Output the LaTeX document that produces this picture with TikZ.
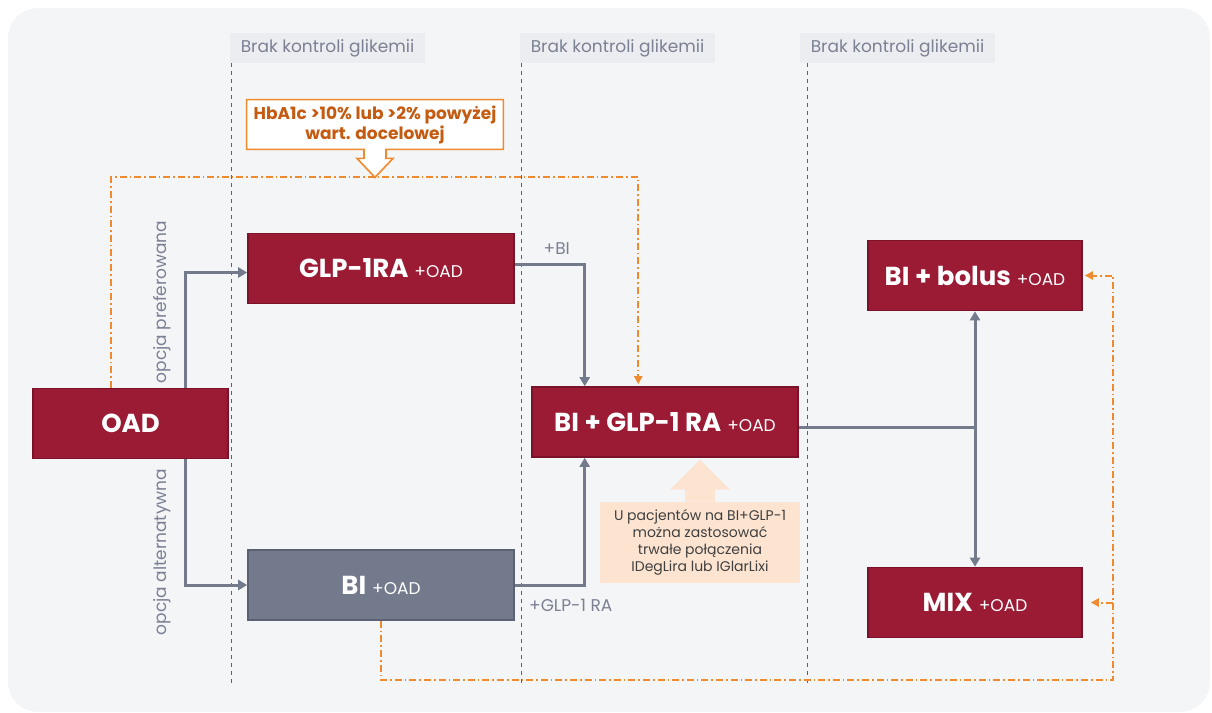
\documentclass[tikz,border=0pt]{standalone}
\usepackage{fontspec}
\setmainfont{Poppins}
\usepackage{xcolor}
\usepackage{tikz}
\usetikzlibrary{arrows.meta,positioning,calc,backgrounds}
\definecolor{bgpanel}{HTML}{F4F5F7}
\definecolor{hdrgray}{HTML}{ECEDF0}
\definecolor{txtgray}{HTML}{7B8093}
\definecolor{crimson}{HTML}{9B1B35}
\definecolor{crimsondark}{HTML}{7A1229}
\definecolor{slate}{HTML}{737A8C}
\definecolor{slatedark}{HTML}{5B6173}
\definecolor{orangeln}{HTML}{F08A2E}
\definecolor{orangetxt}{HTML}{C55A11}
\definecolor{peach}{HTML}{FCE4D1}
\definecolor{notetxt}{HTML}{3F3F3F}
\newcommand{\plusoad}{\hspace{3pt}{\mdseries\fontsize{8.5}{10}\selectfont +OAD}}

\begin{document}
\begin{tikzpicture}[x=0.5pt,y=-0.5pt,
   hdr/.style={fill=hdrgray,text=txtgray,minimum width=97.5pt,minimum height=15pt,inner sep=0pt,
               font=\fontsize{8.5}{10}\selectfont},
   drug/.style={draw=crimsondark,fill=crimson,line width=0.8pt,text=white,minimum width=133pt,
                minimum height=35pt,inner sep=0pt,font=\fontsize{13}{15}\selectfont\bfseries},
   sep/.style={draw=slatedark,line width=0.7pt,dash pattern=on 2pt off 2pt},
   flowline/.style={draw=slate,line width=1.5pt},
   flowarrow/.style={flowline,-{Triangle[length=4.5pt,width=5pt]}},
   alt/.style={draw=orangeln,line width=1pt,dash pattern=on 3.5pt off 1.5pt on 0.8pt off 1.5pt,
               -{Triangle[length=4pt,width=4pt]}},
   side/.style={text=txtgray,font=\fontsize{8.5}{10}\selectfont}]
  \useasboundingbox (0,0) rectangle (1212,713);
  \node[hdr] (h1) at (327.5,48) {Brak kontroli glikemii};
  \node[hdr] (h2) at (617.5,48) {Brak kontroli glikemii};
  \node[hdr] (h3) at (897.5,48) {Brak kontroli glikemii};
  \draw[sep] ([xshift=1pt]h1.south west) -- ([xshift=1pt]h1.south west |- 0,683);
  \draw[sep] ([xshift=1pt]h2.south west) -- ([xshift=1pt]h2.south west |- 0,683);
  \draw[sep] ([xshift=4pt]h3.south west) -- ([xshift=4pt]h3.south west |- 0,683);

  \node[text=orangetxt,align=center,minimum width=128pt,minimum height=24.5pt,inner sep=0pt,
        font=\fontsize{8.5}{10}\selectfont\bfseries] (hba) at (375,124.5)
        {HbA1c >10\% lub >2\% powyżej\\wart. docelowej};
  \coordinate (hbatip) at ($(hba.south)+(0,28)$);
  \begin{scope}[on background layer]
    \fill[bgpanel,rounded corners=15pt] (8,8) rectangle (1210,712);
    \draw[orangeln,fill=white,line width=0.8pt] (hba.north west) -- (hba.north east) -- (hba.south east)
      -- ($(hba.south)+(11,0)$) -- ++(0,9) -- ++(7,0) -- (hbatip) -- ($(hba.south)+(-18,9)$)
      -- ++(7,0) -- ++(0,-9) -- (hba.south west) -- cycle;
  \end{scope}

  \node[drug] (oad) at (130.5,423.5) [minimum width=97.5pt] {OAD};
  \node[drug] (glp) at (381,268.5) {GLP-1RA\plusoad};
  \node[drug,draw=slatedark,fill=slate] (bi) at (381,585) {BI\plusoad};
  \node[drug] (biglp) at (665,422) {BI + GLP-1 RA\plusoad};
  \node[drug,minimum width=107pt] (bolus) at (975,275.5) {BI + bolus\plusoad};
  \node[drug,minimum width=107pt] (mix) at (975,602.5) {MIX\plusoad};

  \node[side,rotate=90] (pref) at (162,302) {opcja preferowana};
  \node[side,rotate=90] (altopt) at (162,552) {opcja alternatywna};

  \node[fill=peach,text=notetxt,align=center,minimum width=100pt,minimum height=40.5pt,inner sep=0pt,
        font=\fontsize{7}{8.5}\selectfont] (note) at (700,542.5)
        {U pacjentów na BI+GLP-1\\można zastosować\\trwałe połączenia\\IDegLira lub IGlarLixi};
  \fill[peach] ($(note.north)+(-15,0)$) -- ++(0,-12) -- ++(-15,0) -- ($(note.north)+(0,-42)$)
    -- ($(note.north)+(30,-12)$) -- ++(-15,0) -- ++(0,12) -- cycle;

  \draw[flowarrow] ($(oad.north west)!0.78!(oad.north east)$) |- ([yshift=-2pt]glp.west);
  \draw[flowarrow] ($(oad.south west)!0.78!(oad.south east)$) |- (bi.west);
  \draw[flowarrow] ([yshift=2pt]glp.east) -| ($(biglp.north west)!0.2!(biglp.north east)$)
    node[side,pos=0.3,above=1pt] {+BI};
  \draw[flowarrow] (bi.east) -| ($(biglp.south west)!0.2!(biglp.south east)$)
    node[side,pos=0.4,below=3pt] {+GLP-1 RA};
  \coordinate (split) at ([yshift=-2.5pt]biglp.east -| bolus.south);
  \draw[flowline] ([yshift=-2.5pt]biglp.east) -- (split);
  \draw[flowline,{Triangle[length=4.5pt,width=5pt]}-{Triangle[length=4.5pt,width=5pt]}] (bolus.south) -- (mix.north);

  \draw[alt,shorten >=1pt] ($(oad.north west)!0.4!(oad.north east)$) |- (hbatip)
    -| ($(biglp.north west)!0.4!(biglp.north east)$);
  \coordinate (loop) at (1113,680);
  \draw[alt,shorten >=1pt] (bi.south) |- (loop) |- (bolus.east);
  \draw[alt,shorten >=4pt] (loop |- mix.east) -- (mix.east);
\end{tikzpicture}
\end{document}
